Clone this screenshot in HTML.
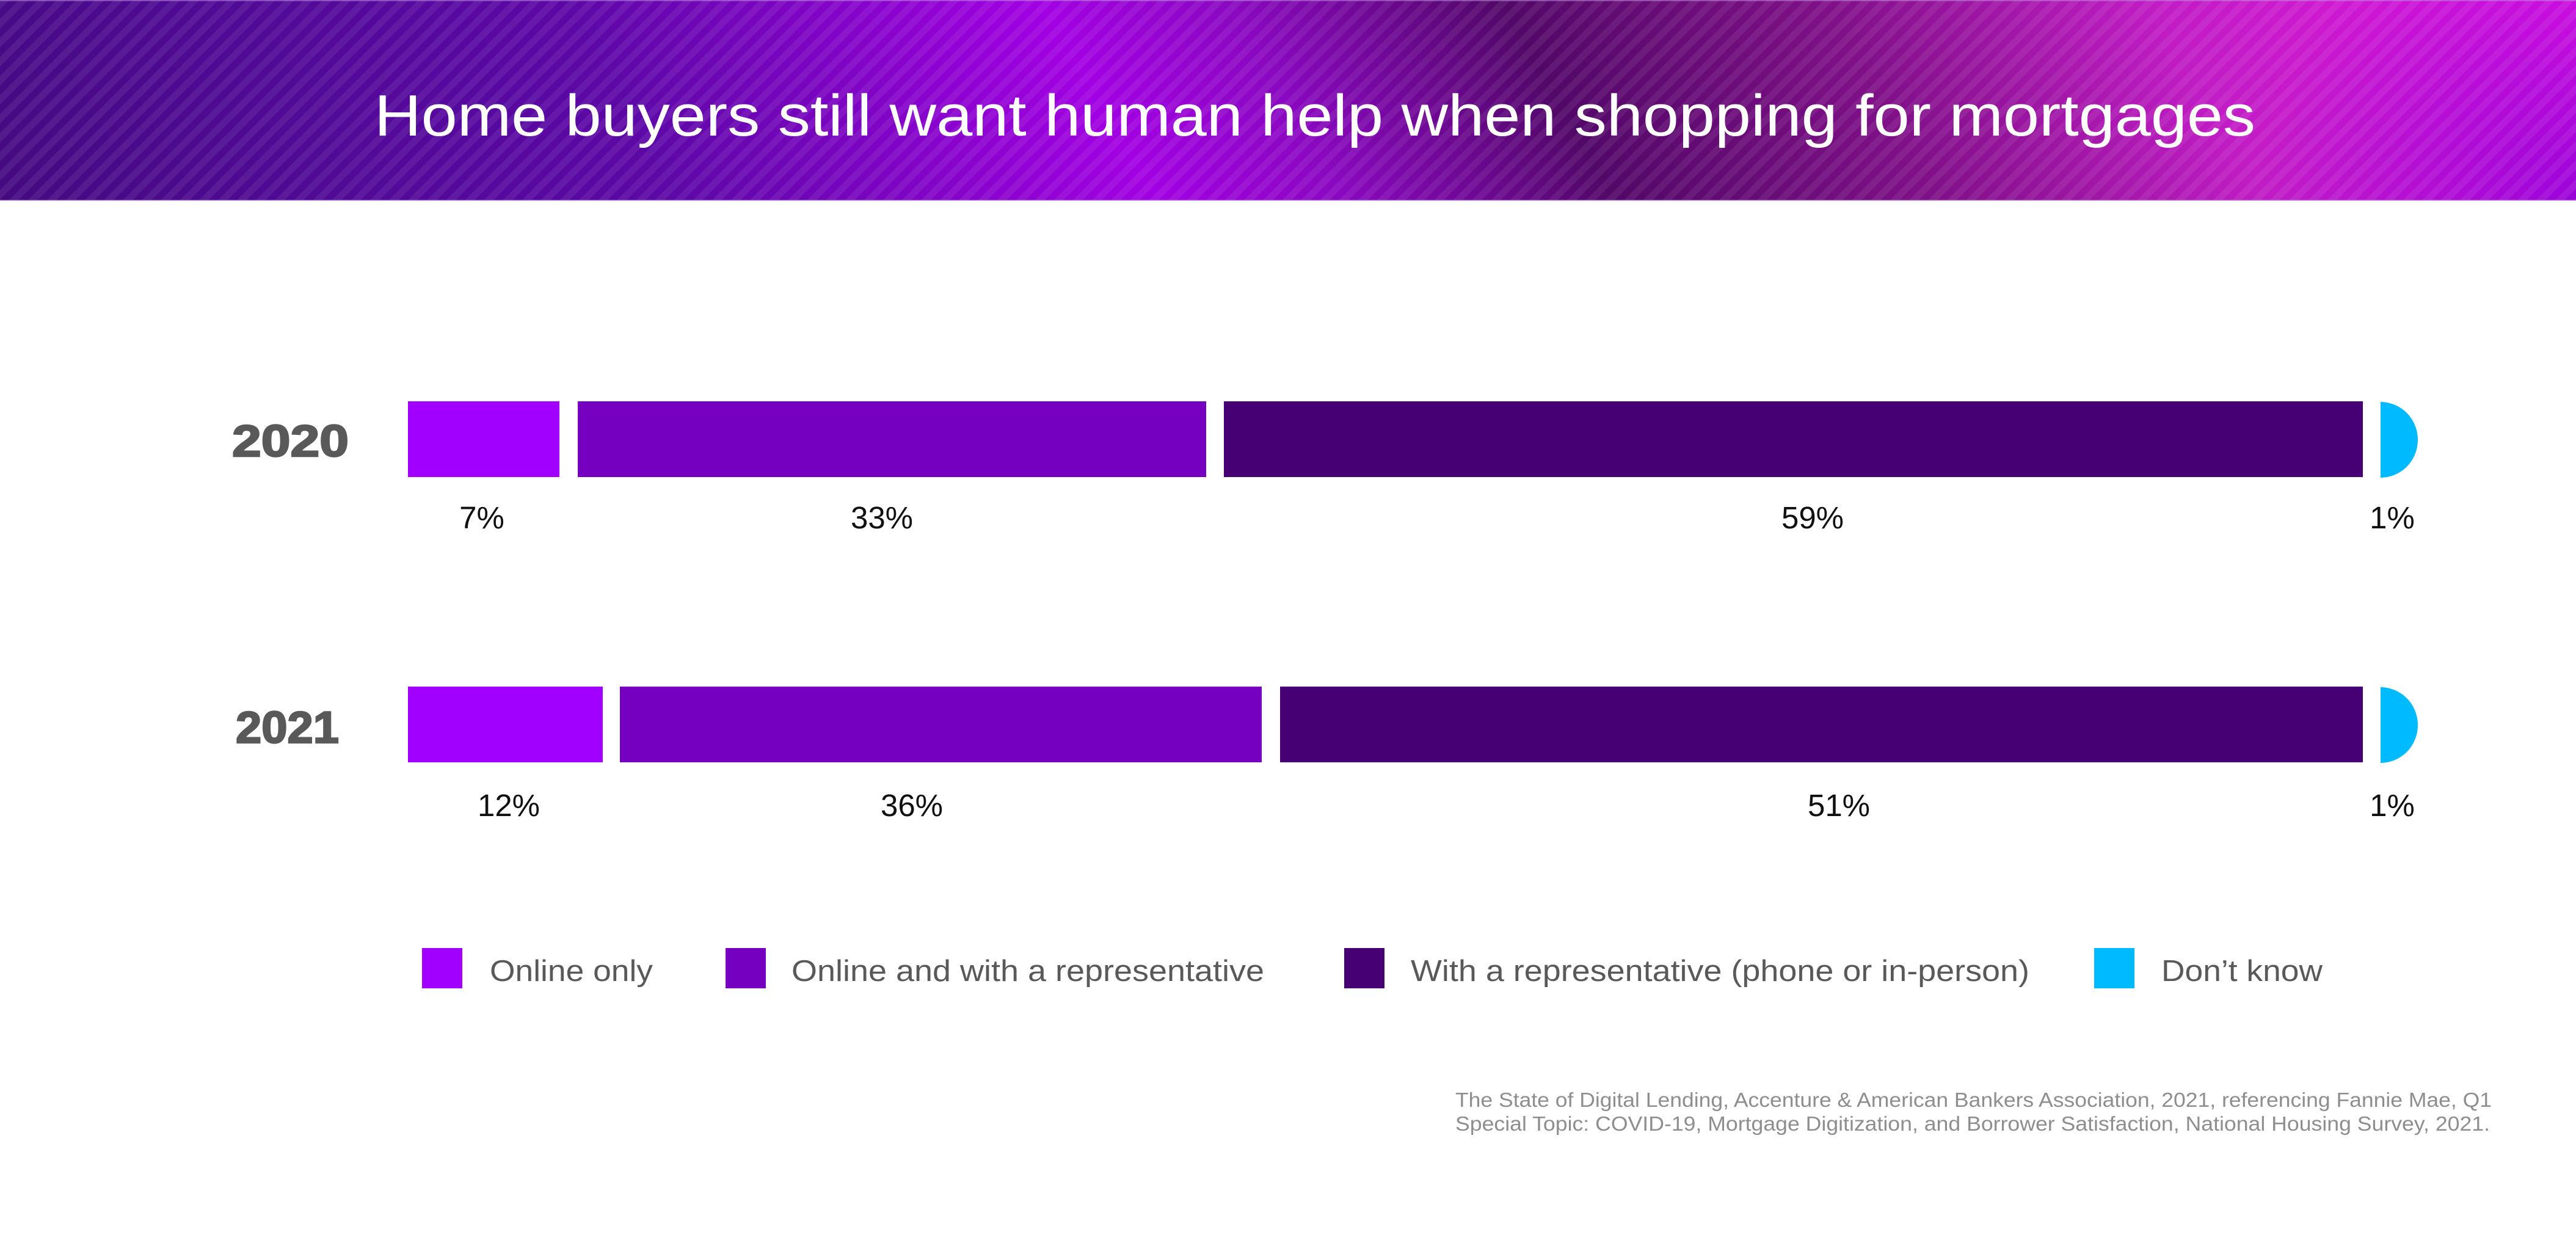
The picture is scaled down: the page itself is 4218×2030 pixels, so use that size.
<!DOCTYPE html>
<html>
<head>
<meta charset="utf-8">
<style>
  html, body { margin: 0; padding: 0; background: #ffffff; }
  body { width: 4218px; height: 2030px; overflow: hidden; }
  svg { display: block; }
  text { font-family: "Liberation Sans", Arial, sans-serif; }
</style>
</head>
<body>
<svg width="4218" height="2030" viewBox="0 0 4218 2030" xmlns="http://www.w3.org/2000/svg">
  <defs>
    <linearGradient id="hdr" gradientUnits="userSpaceOnUse" x1="456" y1="1118" x2="3762" y2="-790">
      <stop offset="0%" stop-color="#440a80"/>
      <stop offset="10%" stop-color="#4e0a92"/>
      <stop offset="25%" stop-color="#5c08a6"/>
      <stop offset="43%" stop-color="#a200e2"/>
      <stop offset="50%" stop-color="#8a08c0"/>
      <stop offset="60%" stop-color="#520868"/>
      <stop offset="72%" stop-color="#801088"/>
      <stop offset="84%" stop-color="#c01cc4"/>
      <stop offset="100%" stop-color="#e214e2"/>
    </linearGradient>
    <radialGradient id="br" gradientUnits="userSpaceOnUse" cx="4218" cy="340" r="520">
      <stop offset="0%" stop-color="#9000d8" stop-opacity="0.85"/>
      <stop offset="100%" stop-color="#9000d8" stop-opacity="0"/>
    </radialGradient>
    <pattern id="stripes" patternUnits="userSpaceOnUse" width="22" height="22" patternTransform="rotate(45)">
      <rect x="0" y="0" width="11" height="22" fill="#ffffff" fill-opacity="0.07"/>
    </pattern>
  </defs>

  <!-- Header -->
  <rect x="0" y="0" width="4218" height="328" fill="url(#hdr)"/>
  <rect x="0" y="0" width="4218" height="328" fill="url(#br)"/>
  <rect x="0" y="0" width="4218" height="328" fill="url(#stripes)"/>
  <rect x="0" y="0" width="4218" height="2" fill="#c090e0" fill-opacity="0.5"/>
  <rect x="0" y="327" width="4218" height="2" fill="#b890d8" fill-opacity="0.6"/>
  <text x="613" y="222" font-size="96" fill="#ffffff" textLength="3080" lengthAdjust="spacingAndGlyphs">Home buyers still want human help when shopping for mortgages</text>

  <!-- Year labels -->
  <text x="380" y="747" font-size="73" font-weight="bold" fill="#595959" stroke="#595959" stroke-width="2.5" textLength="191" lengthAdjust="spacingAndGlyphs">2020</text>
  <text x="386" y="1216" font-size="73" font-weight="bold" fill="#595959" stroke="#595959" stroke-width="2.5" textLength="169" lengthAdjust="spacingAndGlyphs">2021</text>

  <!-- 2020 bar -->
  <rect x="668" y="657" width="248" height="124" fill="#a100ff"/>
  <rect x="946" y="657" width="1029" height="124" fill="#7500c0"/>
  <rect x="2004" y="657" width="1865" height="124" fill="#460073"/>
  <path d="M3898,658 A61,62 0 0 1 3898,782 Z" fill="#00baff"/>

  <!-- 2020 labels -->
  <g font-size="51" fill="#111111" text-anchor="middle">
    <text x="789" y="865">7%</text>
    <text x="1444" y="865">33%</text>
    <text x="2968" y="865">59%</text>
    <text x="3917" y="865">1%</text>
  </g>

  <!-- 2021 bar -->
  <rect x="668" y="1124" width="319" height="124" fill="#a100ff"/>
  <rect x="1015" y="1124" width="1051" height="124" fill="#7500c0"/>
  <rect x="2096" y="1124" width="1773" height="124" fill="#460073"/>
  <path d="M3898,1125 A61,62 0 0 1 3898,1249 Z" fill="#00baff"/>

  <!-- 2021 labels -->
  <g font-size="51" fill="#111111" text-anchor="middle">
    <text x="833" y="1336">12%</text>
    <text x="1493" y="1336">36%</text>
    <text x="3011" y="1336">51%</text>
    <text x="3917" y="1336">1%</text>
  </g>

  <!-- Legend -->
  <rect x="691" y="1552" width="66" height="66" fill="#a100ff"/>
  <text x="802" y="1606" font-size="49" fill="#595959" textLength="267" lengthAdjust="spacingAndGlyphs">Online only</text>

  <rect x="1188" y="1552" width="66" height="66" fill="#7500c0"/>
  <text x="1296" y="1606" font-size="49" fill="#595959" textLength="774" lengthAdjust="spacingAndGlyphs">Online and with a representative</text>

  <rect x="2201" y="1552" width="66" height="66" fill="#460073"/>
  <text x="2310" y="1606" font-size="49" fill="#595959" textLength="1013" lengthAdjust="spacingAndGlyphs">With a representative (phone or in-person)</text>

  <rect x="3429" y="1552" width="66" height="66" fill="#00baff"/>
  <text x="3539" y="1606" font-size="49" fill="#595959" textLength="264" lengthAdjust="spacingAndGlyphs">Don’t know</text>

  <!-- Footnote -->
  <text x="2383" y="1812" font-size="33" fill="#8e8e8e" textLength="1697" lengthAdjust="spacingAndGlyphs">The State of Digital Lending, Accenture &amp; American Bankers Association, 2021, referencing Fannie Mae, Q1</text>
  <text x="2383" y="1851" font-size="33" fill="#8e8e8e" textLength="1694" lengthAdjust="spacingAndGlyphs">Special Topic: COVID-19, Mortgage Digitization, and Borrower Satisfaction, National Housing Survey, 2021.</text>
</svg>
</body>
</html>
